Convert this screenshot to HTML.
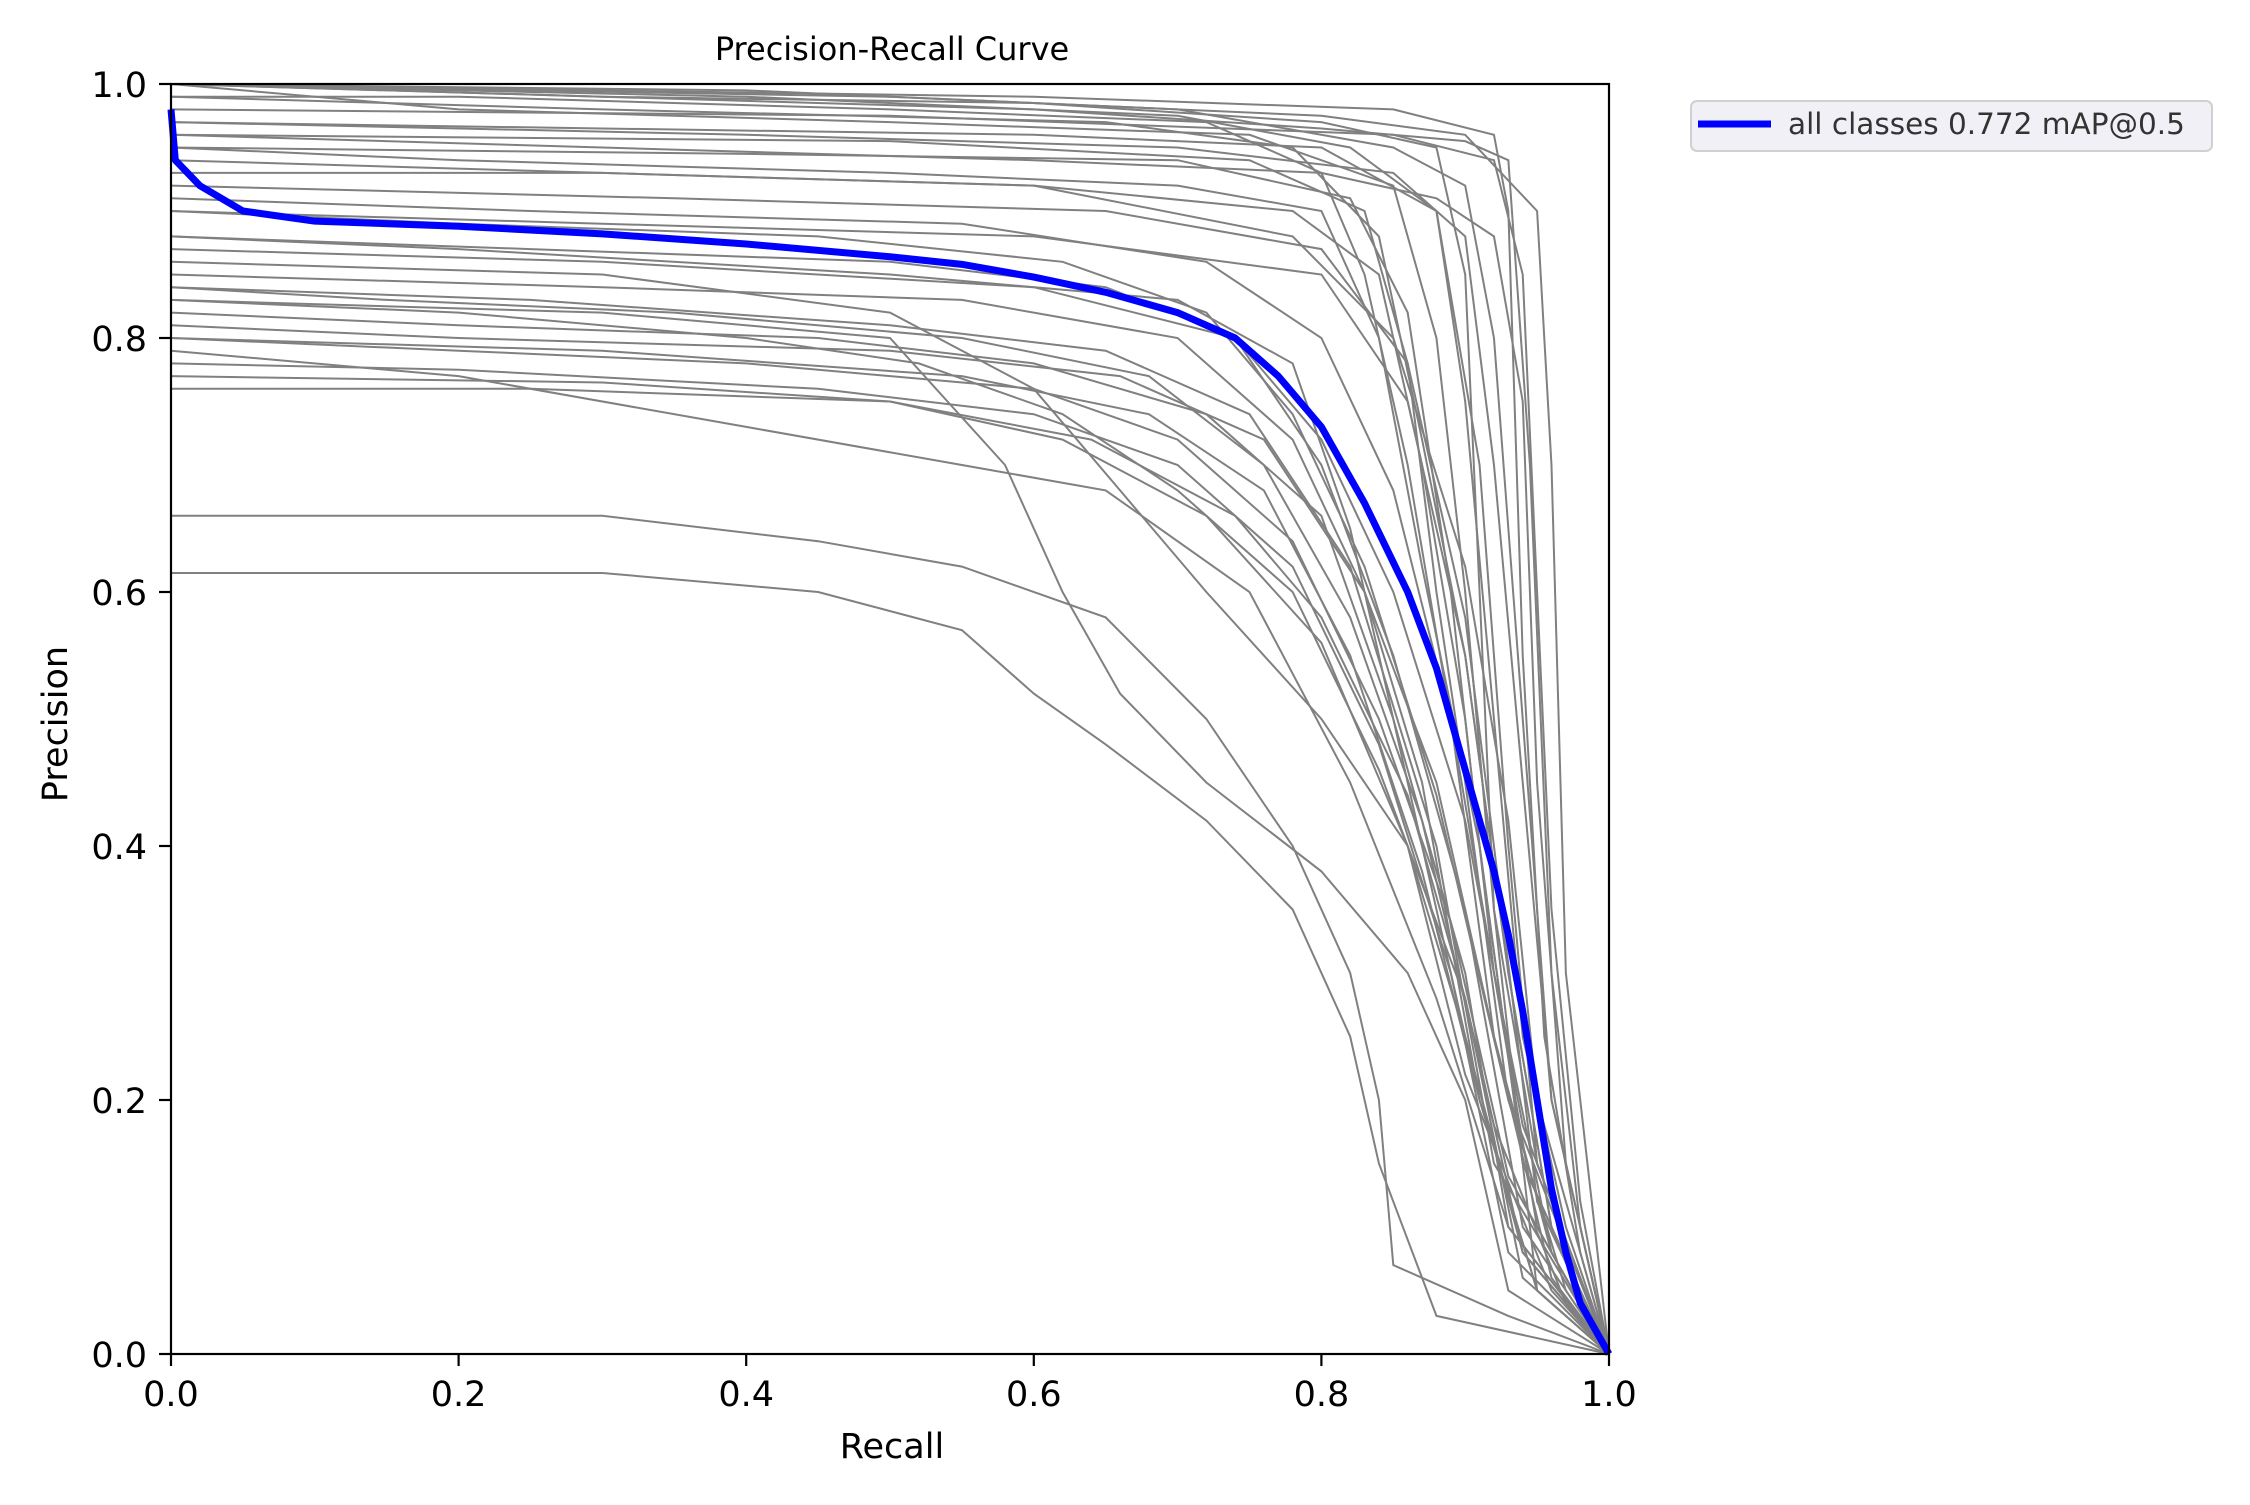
<!DOCTYPE html>
<html><head><meta charset="utf-8"><style>
html,body{margin:0;padding:0;background:#fff;}
svg text{font-family:"DejaVu Sans","Liberation Sans",sans-serif;}
</style></head><body>
<svg id="chart" width="2250" height="1500" viewBox="0 0 2250 1500" xmlns="http://www.w3.org/2000/svg">
<rect width="2250" height="1500" fill="#fff"/>
<text x="892" y="60" font-size="32" text-anchor="middle">Precision-Recall Curve</text>
<g id="plot"></g>
<g id="axes"></g>
<text x="892" y="1458" font-size="35" text-anchor="middle">Recall</text>
<text x="67" y="724" font-size="35" text-anchor="middle" transform="rotate(-90 67 724)">Precision</text>
<g>
<rect x="1691" y="101" width="521" height="50" rx="6" fill="#f0f0f6" stroke="#d0d0d0" stroke-width="2"/>
<line x1="1698" y1="124" x2="1771" y2="124" stroke="#0000ff" stroke-width="7"/>
<text x="1788" y="134" font-size="29.5" fill="#333">all classes 0.772 mAP@0.5</text>
</g>
</svg>
<script>
const xTicks = [0, 0.2, 0.4, 0.6, 0.8, 1.0];
const yTicks = [0, 0.2, 0.4, 0.6, 0.8, 1.0];
const xTickLabels = ["0.0","0.2","0.4","0.6","0.8","1.0"];
const yTickLabels = ["0.0","0.2","0.4","0.6","0.8","1.0"];
const allClassesRecall = [0,0.003,0.02,0.05,0.1,0.2,0.3,0.4,0.5,0.55,0.6,0.65,0.7,0.74,0.77,0.8,0.83,0.86,0.88,0.9,0.92,0.93,0.94,0.95,0.96,0.97,0.98,1];
const allClassesPrecision = [0.98,0.94,0.92,0.90,0.892,0.888,0.882,0.874,0.864,0.858,0.848,0.836,0.82,0.80,0.77,0.73,0.67,0.60,0.54,0.46,0.38,0.33,0.27,0.20,0.13,0.08,0.04,0];
const classCurves = [
 [[0,1],[0.3,0.99],[0.6,0.98],[0.8,0.965],[0.9,0.955],[0.93,0.94],[0.945,0.7],[0.96,0.3],[0.98,0.1],[1,0]],
 [[0,1],[0.4,0.995],[0.7,0.98],[0.85,0.95],[0.9,0.92],[0.92,0.8],[0.94,0.5],[0.96,0.2],[1,0]],
 [[0,0.97],[0.3,0.965],[0.6,0.96],[0.8,0.95],[0.88,0.9],[0.9,0.75],[0.92,0.5],[0.94,0.25],[0.97,0.1],[1,0]],
 [[0,1],[0.2,0.98],[0.5,0.97],[0.75,0.96],[0.85,0.92],[0.88,0.8],[0.9,0.6],[0.92,0.35],[0.95,0.15],[1,0]],
 [[0,0.95],[0.4,0.945],[0.7,0.94],[0.82,0.91],[0.86,0.82],[0.89,0.6],[0.91,0.4],[0.94,0.15],[1,0]],
 [[0,1],[0.5,0.99],[0.8,0.975],[0.9,0.96],[0.95,0.9],[0.96,0.7],[0.97,0.3],[0.99,0.1],[1,0]],
 [[0,0.93],[0.3,0.93],[0.6,0.92],[0.78,0.9],[0.84,0.85],[0.87,0.7],[0.9,0.5],[0.92,0.3],[0.95,0.1],[1,0]],
 [[0,0.96],[0.5,0.955],[0.75,0.94],[0.83,0.9],[0.86,0.78],[0.88,0.6],[0.9,0.45],[0.93,0.2],[1,0]],
 [[0,0.9],[0.3,0.89],[0.6,0.88],[0.8,0.85],[0.86,0.75],[0.9,0.55],[0.93,0.3],[0.96,0.1],[1,0]],
 [[0,0.88],[0.2,0.87],[0.5,0.85],[0.7,0.83],[0.78,0.78],[0.82,0.65],[0.86,0.45],[0.9,0.25],[0.94,0.08],[1,0]],
 [[0,0.85],[0.3,0.84],[0.55,0.83],[0.7,0.8],[0.78,0.72],[0.83,0.6],[0.87,0.45],[0.91,0.2],[0.95,0.05],[1,0]],
 [[0,0.84],[0.25,0.83],[0.5,0.81],[0.65,0.79],[0.75,0.74],[0.82,0.62],[0.88,0.4],[0.92,0.15],[1,0]],
 [[0,0.82],[0.2,0.81],[0.45,0.8],[0.6,0.78],[0.72,0.74],[0.8,0.66],[0.85,0.5],[0.9,0.3],[0.93,0.1],[1,0]],
 [[0,0.8],[0.3,0.79],[0.55,0.77],[0.68,0.74],[0.76,0.68],[0.82,0.55],[0.87,0.38],[0.91,0.2],[0.95,0.05],[1,0]],
 [[0,0.78],[0.2,0.775],[0.45,0.76],[0.6,0.74],[0.7,0.7],[0.78,0.62],[0.84,0.48],[0.89,0.3],[0.93,0.08],[1,0]],
 [[0,0.77],[0.3,0.765],[0.5,0.75],[0.62,0.72],[0.72,0.66],[0.8,0.56],[0.86,0.4],[0.9,0.22],[0.96,0.05],[1,0]],
 [[0,0.79],[0.2,0.77],[0.4,0.73],[0.55,0.7],[0.65,0.68],[0.75,0.6],[0.82,0.45],[0.88,0.28],[0.93,0.1],[1,0]],
 [[0,0.66],[0.3,0.66],[0.45,0.64],[0.55,0.62],[0.65,0.58],[0.72,0.5],[0.78,0.4],[0.82,0.3],[0.84,0.2],[0.85,0.07],[0.93,0.03],[1,0]],
 [[0,0.615],[0.3,0.615],[0.45,0.6],[0.55,0.57],[0.6,0.52],[0.65,0.48],[0.72,0.42],[0.78,0.35],[0.82,0.25],[0.84,0.15],[0.88,0.03],[1,0]],
 [[0,0.83],[0.3,0.82],[0.5,0.8],[0.58,0.7],[0.62,0.6],[0.66,0.52],[0.72,0.45],[0.8,0.38],[0.86,0.3],[0.9,0.2],[0.93,0.05],[1,0]],
 [[0,0.86],[0.3,0.85],[0.5,0.82],[0.6,0.76],[0.66,0.68],[0.72,0.6],[0.8,0.5],[0.86,0.4],[0.9,0.25],[0.94,0.08],[1,0]],
 [[0,1],[0.4,0.99],[0.7,0.975],[0.82,0.95],[0.88,0.9],[0.91,0.7],[0.93,0.4],[0.95,0.15],[1,0]],
 [[0,0.99],[0.3,0.98],[0.65,0.97],[0.78,0.95],[0.84,0.88],[0.87,0.72],[0.9,0.55],[0.93,0.3],[0.96,0.1],[1,0]],
 [[0,0.98],[0.5,0.975],[0.85,0.96],[0.92,0.94],[0.94,0.85],[0.95,0.6],[0.96,0.35],[0.98,0.12],[1,0]],
 [[0,0.94],[0.3,0.93],[0.6,0.92],[0.78,0.88],[0.85,0.8],[0.9,0.62],[0.93,0.42],[0.95,0.2],[1,0]],
 [[0,0.91],[0.25,0.9],[0.55,0.89],[0.72,0.86],[0.8,0.8],[0.85,0.68],[0.89,0.5],[0.92,0.3],[0.96,0.08],[1,0]],
 [[0,0.87],[0.3,0.86],[0.6,0.84],[0.74,0.8],[0.8,0.72],[0.85,0.6],[0.9,0.42],[0.94,0.18],[1,0]],
 [[0,0.81],[0.2,0.8],[0.5,0.79],[0.66,0.77],[0.76,0.72],[0.83,0.6],[0.88,0.45],[0.92,0.25],[0.96,0.06],[1,0]],
 [[0,0.97],[0.4,0.96],[0.7,0.95],[0.85,0.93],[0.9,0.88],[0.92,0.7],[0.94,0.45],[0.96,0.2],[1,0]],
 [[0,0.92],[0.35,0.91],[0.65,0.9],[0.8,0.87],[0.86,0.78],[0.9,0.58],[0.92,0.4],[0.95,0.12],[1,0]],
 [[0,0.95],[0.2,0.94],[0.5,0.93],[0.7,0.92],[0.8,0.9],[0.84,0.8],[0.87,0.62],[0.91,0.4],[0.94,0.15],[1,0]],
 [[0,0.76],[0.25,0.76],[0.5,0.75],[0.64,0.72],[0.74,0.66],[0.8,0.58],[0.86,0.44],[0.9,0.28],[0.94,0.08],[1,0]],
 [[0,1],[0.3,0.99],[0.6,0.985],[0.8,0.97],[0.88,0.95],[0.9,0.85],[0.91,0.6],[0.92,0.35],[0.95,0.05],[1,0]],
 [[0,0.84],[0.15,0.83],[0.35,0.82],[0.55,0.8],[0.68,0.77],[0.76,0.7],[0.82,0.58],[0.87,0.42],[0.92,0.18],[0.97,0.04],[1,0]],
 [[0,0.8],[0.2,0.79],[0.4,0.78],[0.6,0.76],[0.7,0.72],[0.78,0.64],[0.84,0.5],[0.89,0.34],[0.93,0.14],[1,0]],
 [[0,0.99],[0.2,0.99],[0.5,0.98],[0.72,0.97],[0.8,0.93],[0.83,0.85],[0.86,0.7],[0.89,0.5],[0.92,0.25],[0.96,0.08],[1,0]],
 [[0,0.96],[0.3,0.95],[0.6,0.94],[0.8,0.93],[0.88,0.91],[0.92,0.88],[0.94,0.75],[0.95,0.45],[0.97,0.15],[1,0]],
 [[0,0.88],[0.25,0.87],[0.5,0.86],[0.65,0.84],[0.74,0.8],[0.8,0.7],[0.85,0.55],[0.9,0.35],[0.94,0.1],[1,0]],
 [[0,0.83],[0.2,0.82],[0.4,0.8],[0.52,0.78],[0.62,0.74],[0.7,0.68],[0.78,0.6],[0.84,0.46],[0.9,0.28],[0.94,0.06],[1,0]],
 [[0,0.9],[0.2,0.89],[0.45,0.88],[0.62,0.86],[0.72,0.82],[0.78,0.74],[0.83,0.62],[0.88,0.44],[0.93,0.2],[0.97,0.05],[1,0]],
 [[0,1],[0.3,0.995],[0.6,0.99],[0.85,0.98],[0.92,0.96],[0.93,0.9],[0.94,0.55],[0.955,0.25],[0.98,0.08],[1,0]]
];
const X0=171,X1=1609,Y0=1354,Y1=84;
const sx=v=>X0+(X1-X0)*v, sy=v=>Y0-(Y0-Y1)*v;
const NS="http://www.w3.org/2000/svg";
const plot=document.getElementById('plot'), axes=document.getElementById('axes');
classCurves.forEach(c=>{
 const p=document.createElementNS(NS,'polyline');
 p.setAttribute('points',c.map(q=>sx(q[0])+','+sy(q[1])).join(' '));
 p.setAttribute('fill','none');p.setAttribute('stroke','#808080');p.setAttribute('stroke-width','2');
 
 
 plot.appendChild(p);
});
const b=document.createElementNS(NS,'polyline');
b.setAttribute('points',allClassesRecall.map((r,i)=>sx(r)+','+sy(allClassesPrecision[i])).join(' '));
b.setAttribute('fill','none');b.setAttribute('stroke','#0000ff');b.setAttribute('stroke-width','7');b.setAttribute('stroke-linejoin','round');


plot.appendChild(b);
const frame=document.createElementNS(NS,'rect');
frame.setAttribute('x',X0);frame.setAttribute('y',Y1);frame.setAttribute('width',X1-X0);frame.setAttribute('height',Y0-Y1);
frame.setAttribute('fill','none');frame.setAttribute('stroke','#000');frame.setAttribute('stroke-width','2.2');


axes.appendChild(frame);
xTicks.forEach((v,i)=>{
 const l=document.createElementNS(NS,'line');
 l.setAttribute('x1',sx(v));l.setAttribute('x2',sx(v));l.setAttribute('y1',Y0);l.setAttribute('y2',Y0+12);l.setAttribute('stroke','#000');l.setAttribute('stroke-width','2.2');
 
 
 axes.appendChild(l);
 const t=document.createElementNS(NS,'text');
 t.setAttribute('x',sx(v));t.setAttribute('y',Y0+52);t.setAttribute('font-size','35');t.setAttribute('text-anchor','middle');
 t.textContent=xTickLabels[i];
 
 
 axes.appendChild(t);
});
yTicks.forEach((v,i)=>{
 const l=document.createElementNS(NS,'line');
 l.setAttribute('x1',X0-12);l.setAttribute('x2',X0);l.setAttribute('y1',sy(v));l.setAttribute('y2',sy(v));l.setAttribute('stroke','#000');l.setAttribute('stroke-width','2.2');
 
 
 axes.appendChild(l);
 const t=document.createElementNS(NS,'text');
 t.setAttribute('x',X0-24);t.setAttribute('y',sy(v)+13);t.setAttribute('font-size','35');t.setAttribute('text-anchor','end');
 t.textContent=yTickLabels[i];
 
 
 axes.appendChild(t);
});
</script>
</body></html>
